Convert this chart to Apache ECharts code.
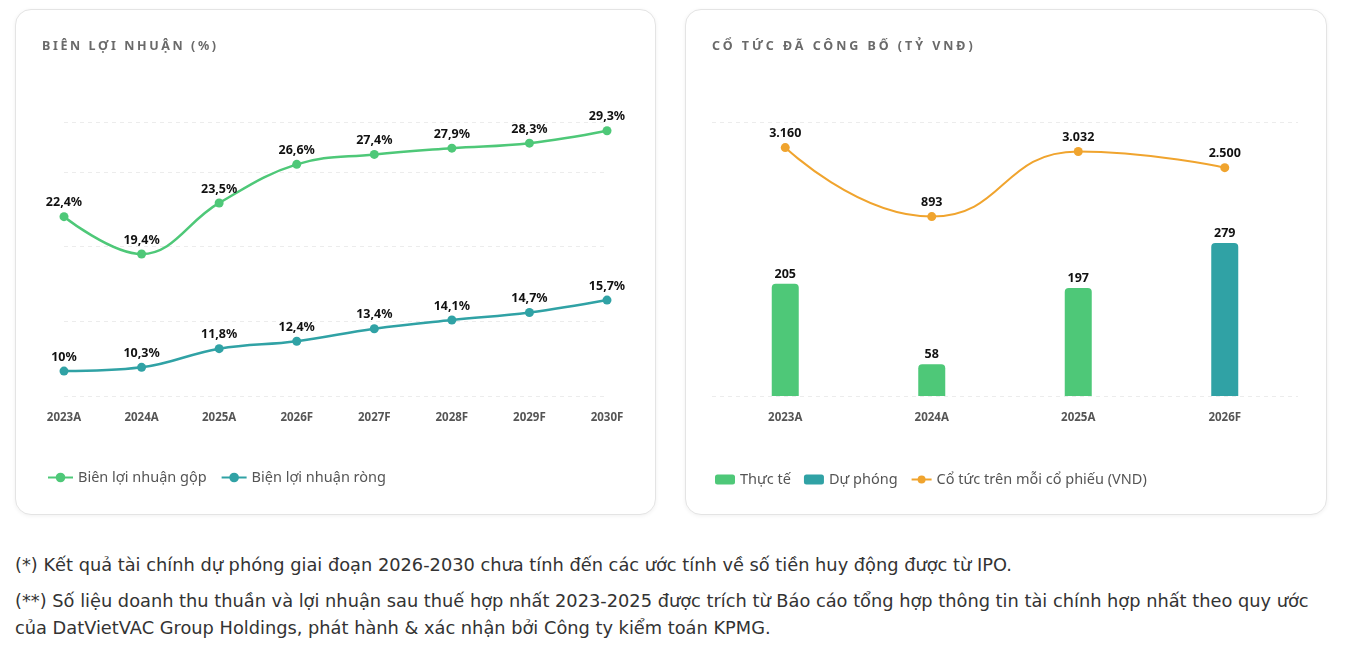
<!DOCTYPE html>
<html>
<head>
<meta charset="utf-8">
<script src="https://cdn.jsdelivr.net/npm/echarts@6/dist/echarts.min.js"></script>
<style>
  body { margin: 0; background: #fff; font-family: "Noto Sans", sans-serif; }
  .card { position: absolute; top: 9px; height: 504px; border: 1px solid #e4e4e4; border-radius: 16px; box-shadow: 0 1px 4px rgba(0,0,0,0.06); background: #fff; }
  .title { position: absolute; left: 26px; top: 27px; font-size: 12.5px; font-weight: 700; letter-spacing: 2.6px; color: #6a6a6a; }
  .chart { position: absolute; left: 0; top: 0; width: 100%; height: 100%; }
  .note { position: absolute; left: 15px; font-family: "DejaVu Sans", sans-serif; font-size: 17.8px; color: #333; line-height: 27px; }
</style>
</head>
<body>
<div class="card" style="left:15px;width:639px;">
  <div class="chart" id="chartBien"></div>
  <div class="title">BIÊN LỢI NHUẬN (%)</div>
</div>
<div class="card" style="left:685px;width:640px;">
  <div class="chart" id="chartCoTuc"></div>
  <div class="title" style="letter-spacing:2.95px">CỔ TỨC ĐÃ CÔNG BỐ (TỶ VNĐ)</div>
</div>
<div class="note" style="top:551px;">(*) Kết quả tài chính dự phóng giai đoạn 2026-2030 chưa tính đến các ước tính về số tiền huy động được từ IPO.</div>
<div class="note" style="top:587px;">(**) Số liệu doanh thu thuần và lợi nhuận sau thuế hợp nhất 2023-2025 được trích từ Báo cáo tổng hợp thông tin tài chính hợp nhất theo quy ước<br>của DatVietVAC Group Holdings, phát hành &amp; xác nhận bởi Công ty kiểm toán KPMG.</div>

<script>
// bien loi nhuan
var namBien = ['2023A', '2024A', '2025A', '2026F', '2027F', '2028F', '2029F', '2030F'];
var bienGop = [22.4, 19.4, 23.5, 26.6, 27.4, 27.9, 28.3, 29.3];
var bienRong = [10, 10.3, 11.8, 12.4, 13.4, 14.1, 14.7, 15.7];
var mocBien = [8, 14, 20, 26, 30];

// co tuc
var namCoTuc = ['2023A', '2024A', '2025A', '2026F'];
var thucTe = [205, 58, 197, '-'];
var duPhong = ['-', '-', '-', 279];
var coTucMoiCP = [3160, 893, 3032, 2500];

var xanh = '#4ec878', xanhNgoc = '#30a2a5', cam = '#f0a42e';
var fontChu = '"Noto Sans", sans-serif';

function nhanPhanTram(p) { return String(p.value).replace('.', ',') + '%'; }
function nhanNghin(p) { return String(p.value).replace(/\B(?=(\d{3})+(?!\d))/g, '.'); }

var kieuNhan = { show: true, position: 'top', distance: 3, color: '#111', fontWeight: 'bold', fontSize: 12.5 };
var kieuTrucX = { color: '#555', fontSize: 11.5, fontWeight: 'bold', margin: 16 };

var chartBien = echarts.init(document.getElementById('chartBien'));
chartBien.setOption({
  textStyle: { fontFamily: fontChu },
  animation: false,
  legend: {
    left: 26, top: 455,
    itemWidth: 25, itemHeight: 12, itemGap: 14,
    textStyle: { fontSize: 14.5, color: '#555' },
    data: ['Biên lợi nhuận gộp', 'Biện lợi nhuận ròng']
  },
  grid: { left: 48, right: 48, top: 112, bottom: 118 },
  xAxis: {
    type: 'category', boundaryGap: false, data: namBien,
    axisLine: { show: false }, axisTick: { show: false },
    axisLabel: kieuTrucX
  },
  yAxis: {
    type: 'value', min: 8, max: 30,
    axisLabel: { show: false }, axisLine: { show: false },
    axisTick: { show: false, customValues: mocBien },
    splitLine: { lineStyle: { color: '#ececec', type: [4, 4] } }
  },
  series: [{
    name: 'Biên lợi nhuận gộp', type: 'line', data: bienGop, smooth: 0.4,
    symbol: 'circle', symbolSize: 9,
    itemStyle: { color: xanh }, lineStyle: { width: 2.5, color: xanh },
    label: Object.assign({ formatter: nhanPhanTram }, kieuNhan)
  }, {
    name: 'Biện lợi nhuận ròng', type: 'line', data: bienRong, smooth: 0.4,
    symbol: 'circle', symbolSize: 9,
    itemStyle: { color: xanhNgoc }, lineStyle: { width: 2.5, color: xanhNgoc },
    label: Object.assign({ formatter: nhanPhanTram }, kieuNhan)
  }]
});

var chartCoTuc = echarts.init(document.getElementById('chartCoTuc'));
chartCoTuc.setOption({
  textStyle: { fontFamily: fontChu },
  animation: false,
  legend: {
    left: 24, top: 457,
    itemWidth: 20, itemHeight: 10, itemGap: 13,
    textStyle: { fontSize: 14.5, color: '#555' },
    data: [
      { name: 'Thực tế', icon: 'roundRect' },
      { name: 'Dự phóng', icon: 'roundRect' },
      'Cổ tức trên mỗi cổ phiếu (VND)'
    ]
  },
  grid: { left: 26, right: 28, top: 112, bottom: 118 },
  xAxis: {
    type: 'category', data: namCoTuc,
    axisLine: { show: false }, axisTick: { show: false },
    axisLabel: kieuTrucX
  },
  yAxis: [{
    type: 'value', min: 0, max: 500, interval: 500,
    axisLabel: { show: false }, axisLine: { show: false }, axisTick: { show: false },
    splitLine: { lineStyle: { color: '#ececec', type: [4, 4] } }
  }, {
    type: 'value', min: -5000, max: 4000,
    axisLabel: { show: false }, axisLine: { show: false }, axisTick: { show: false },
    splitLine: { show: false }
  }],
  series: [{
    name: 'Thực tế', type: 'bar', data: thucTe, barWidth: 27, barGap: '-100%',
    itemStyle: { color: xanh, borderRadius: [4, 4, 0, 0] },
    label: kieuNhan
  }, {
    name: 'Dự phóng', type: 'bar', data: duPhong, barWidth: 27,
    itemStyle: { color: xanhNgoc, borderRadius: [4, 4, 0, 0] },
    label: kieuNhan
  }, {
    name: 'Cổ tức trên mỗi cổ phiếu (VND)', type: 'line', yAxisIndex: 1, data: coTucMoiCP, smooth: 0.5,
    symbol: 'circle', symbolSize: 9,
    itemStyle: { color: cam }, lineStyle: { width: 2, color: cam },
    label: Object.assign({ formatter: nhanNghin }, kieuNhan)
  }]
});
</script>
</body>
</html>
